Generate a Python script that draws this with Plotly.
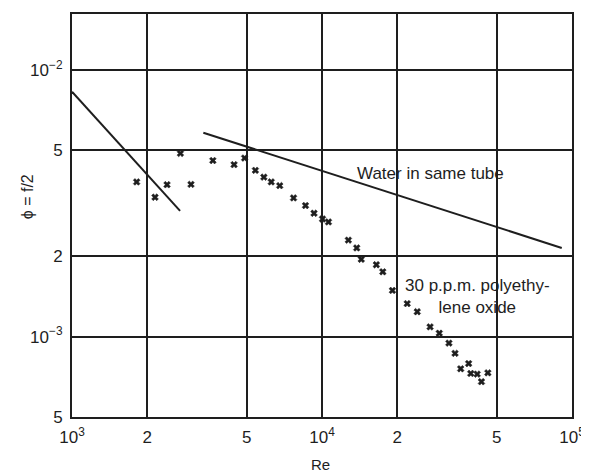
import plotly.graph_objects as go

# Data
re_polymer = [1814, 2148, 2400, 2714, 2992, 3660, 4449, 4903, 5414, 5854, 6266, 6775,
              7695, 8590, 9292, 10045, 10614, 12747, 13770, 14356, 16497, 17507, 19128,
              21917, 24044, 27062, 29452, 32189, 34050, 35870, 38600, 39360, 41760,
              43430, 46070]
phi_polymer = [3.80e-3, 3.33e-3, 3.71e-3, 4.86e-3, 3.72e-3, 4.57e-3, 4.41e-3, 4.67e-3,
               4.20e-3, 3.96e-3, 3.80e-3, 3.68e-3, 3.31e-3, 3.10e-3, 2.90e-3, 2.76e-3,
               2.69e-3, 2.30e-3, 2.15e-3, 1.95e-3, 1.86e-3, 1.75e-3, 1.49e-3, 1.33e-3,
               1.24e-3, 1.088e-3, 1.03e-3, 9.46e-4, 8.66e-4, 7.58e-4, 7.93e-4, 7.28e-4,
               7.24e-4, 6.78e-4, 7.32e-4]

re_laminar = [1000, 2706]
phi_laminar = [8.28e-3, 2.96e-3]

re_water = [3353, 91000]
phi_water = [5.81e-3, 2.15e-3]

x_tickvals = [1e3, 2e3, 5e3, 1e4, 2e4, 5e4, 1e5]
x_ticktext = ["10<sup>3</sup>", "2", "5", "10<sup>4</sup>", "2", "5", "10<sup>5</sup>"]
y_tickvals = [5e-4, 1e-3, 2e-3, 5e-3, 1e-2]
y_ticktext = ["5", "10<sup>\u22123</sup>", "2", "5", "10<sup>\u22122</sup>"]

ink = "#1e1e1e"
font = dict(family="Liberation Sans, Arial, sans-serif", size=17, color=ink)

fig = go.Figure()
fig.add_trace(go.Scatter(x=re_laminar, y=phi_laminar, mode="lines",
                         line=dict(color=ink, width=2), showlegend=False))
fig.add_trace(go.Scatter(x=re_water, y=phi_water, mode="lines",
                         line=dict(color=ink, width=2), showlegend=False))
fig.add_trace(go.Scatter(x=re_polymer, y=phi_polymer, mode="markers",
                         marker=dict(symbol="x", size=6, color=ink,
                                     line=dict(width=0.5, color=ink)),
                         showlegend=False))

axis_common = dict(showgrid=True, gridcolor=ink, gridwidth=2,
                   showline=True, linecolor=ink, linewidth=2, mirror=True,
                   ticks="", zeroline=False, tickfont=font)

fig.update_xaxes(type="log", range=[3, 5], tickvals=x_tickvals, ticktext=x_ticktext,
                 ticklabelstandoff=4, **axis_common)
fig.update_yaxes(type="log", range=[-3.301, -1.791], tickvals=y_tickvals,
                 ticktext=y_ticktext, ticklabelstandoff=4, **axis_common)

fig.add_annotation(text="Water in same tube", xref="paper", yref="paper",
                   x=0.7177, y=0.605, showarrow=False, font=dict(font, size=17),
                   xanchor="center", yanchor="middle")
fig.add_annotation(text="30 p.p.m. polyethy-<br>lene oxide", xref="paper", yref="paper",
                   x=0.811, y=0.299, showarrow=False, font=dict(font, size=17),
                   xanchor="center", yanchor="middle", align="center")
fig.add_annotation(text="Re", xref="paper", yref="paper", x=0.497, y=-0.119,
                   showarrow=False, font=dict(font, size=15), xanchor="center",
                   yanchor="middle")
fig.add_annotation(text="\u03d5 = f/2", xref="paper", yref="paper", x=-0.0875, y=0.546,
                   showarrow=False, textangle=-90, font=dict(font, size=16),
                   xanchor="center", yanchor="middle")

# the page body adds an 8px offset, so the figure is 8px smaller than the window
fig.update_layout(width=581, height=467, margin=dict(l=64, r=14, t=4, b=58),
                  paper_bgcolor="white", plot_bgcolor="white", font=font)

fig.write_html("out.html")
